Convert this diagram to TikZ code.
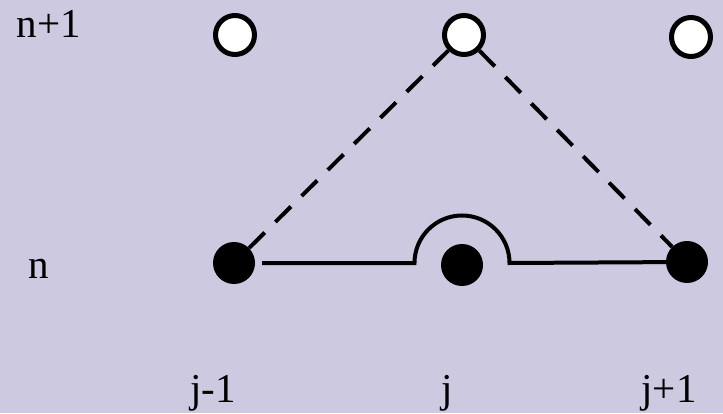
\documentclass[tikz,border=0pt]{standalone}
\usepackage{fontspec}
\setmainfont{Liberation Serif}
\usepackage{tikz}
\usetikzlibrary{positioning,calc}
\definecolor{gridbg}{RGB}{204,201,225}
\tikzset{oldpt/.style={circle,fill=black,inner sep=0pt,minimum size=42pt},
  newpt/.style={circle,draw=black,line width=5pt,fill=white,inner sep=0pt,minimum size=39pt},
  dep/.style={line width=4pt,dash pattern=on 22pt off 15pt},
  bar/.style={line width=4pt},
  idx/.style={font=\fontsize{41}{49}\selectfont,inner sep=0pt,anchor=base}}

\begin{document}
\begin{tikzpicture}[x=1pt, y=1pt]
\fill[gridbg] (0,0) rectangle (723,413);
\useasboundingbox (0,0) rectangle (723,413);
\node[newpt] (ul) at (235,378) {};
\node[newpt] (um) at (464,378) {};
\node[newpt] (ur) at (691,376) {};
\node[oldpt] (ll) at (234,150) {};
\node[oldpt] (lm) at (462,148) {};
\node[oldpt] (lr) at (687,151) {};
\coordinate (hopl) at (414.5,150);
\draw[dep] (ll) -- (um);
\draw[dep] (um) -- (lr);
\draw[bar, shorten <=7pt] (ll) -- (hopl) arc (180:0:47.5) -- (lr);
\node[idx] (tn1) at (49,375) {n+1};
\node[idx] (tn) at (39,135) {n};
\node[idx] (tjm) at (213,11) {j-1};
\node[idx] (tj) at (447,11) {j};
\node[idx] (tjp) at (669,11) {j+1};
\end{tikzpicture}
\end{document}
